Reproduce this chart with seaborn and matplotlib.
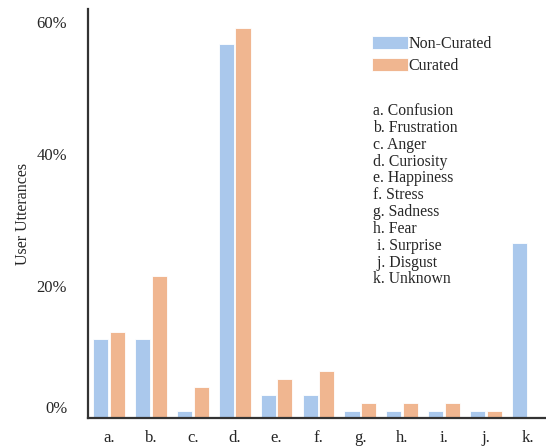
import matplotlib
matplotlib.use("Agg")
import matplotlib.pyplot as plt
import matplotlib.transforms as mtransforms
import seaborn as sns
import pandas as pd

letters = ["a.", "b.", "c.", "d.", "e.", "f.", "g.", "h.", "i.", "j.", "k."]
emotions = ["Confusion", "Frustration", "Anger", "Curiosity", "Happiness", "Stress",
            "Sadness", "Fear", "Surprise", "Disgust", "Unknown"]
non_curated = [12.0, 12.0, 1.0, 56.7, 3.5, 3.5, 1.0, 1.0, 1.0, 1.0, 26.5]
curated = [13.0, 21.5, 4.7, 59.1, 5.9, 7.1, 2.2, 2.2, 2.2, 1.0, 0.0]
series = ["Non-Curated", "Curated"]
colors = ["#aac8ec", "#f0b690"]
yticks = [0, 20, 40, 60]

df = pd.DataFrame({
    "label": letters * 2,
    "value": non_curated + curated,
    "set": [series[0]] * len(letters) + [series[1]] * len(letters),
})

sns.set_style("white")
plt.rcParams["font.family"] = ["Liberation Serif", "DejaVu Serif"]

fig = plt.figure(figsize=(5.46, 4.46), dpi=100)
ax = fig.add_axes([88 / 546, 28 / 446, (546 - 88) / 546, (418 - 9) / 446])

sns.barplot(data=df, x="label", y="value", hue="set", palette=colors, saturation=1,
            width=0.8, gap=0.1, edgecolor="white", linewidth=0.6, ax=ax)

ax.set_xlim(-0.5, 10.43)
ax.set_ylim(0, 62)
ax.set_yticks(yticks)
ax.set_yticklabels([f"{t}%" for t in yticks], fontsize=12)
ax.tick_params(axis="y", length=0, pad=15)
ax.tick_params(axis="x", length=0, pad=9, labelsize=12)
# lift the 0% label off the axis line a little
lab0 = ax.get_yticklabels()[0]
lab0.set_transform(lab0.get_transform() + mtransforms.ScaledTranslation(0, 11 / 100, fig.dpi_scale_trans))

ax.set_xlabel("")
ax.set_ylabel("User Utterances", fontsize=11.5, labelpad=4)

for s in ["top", "right"]:
    ax.spines[s].set_visible(False)
for s in ["left", "bottom"]:
    ax.spines[s].set_color("#333333")
    ax.spines[s].set_linewidth(1.6)

ax.legend(loc="upper left", bbox_to_anchor=((372 - 88) / 458, (418 - 36) / 409),
          frameon=False, fontsize=11.5, handlelength=2.25, handleheight=0.88,
          handletextpad=0.05, labelspacing=0.38, borderaxespad=0, borderpad=0)

key = "\n".join((" " if l in ("i.", "j.") else "") + f"{l} {e}" for l, e in zip(letters, emotions))
fig.text(373 / 546, 1 - 103 / 446, key, fontsize=11.3, va="top", ha="left", linespacing=1.07)

fig.savefig("out.png", dpi=100)
